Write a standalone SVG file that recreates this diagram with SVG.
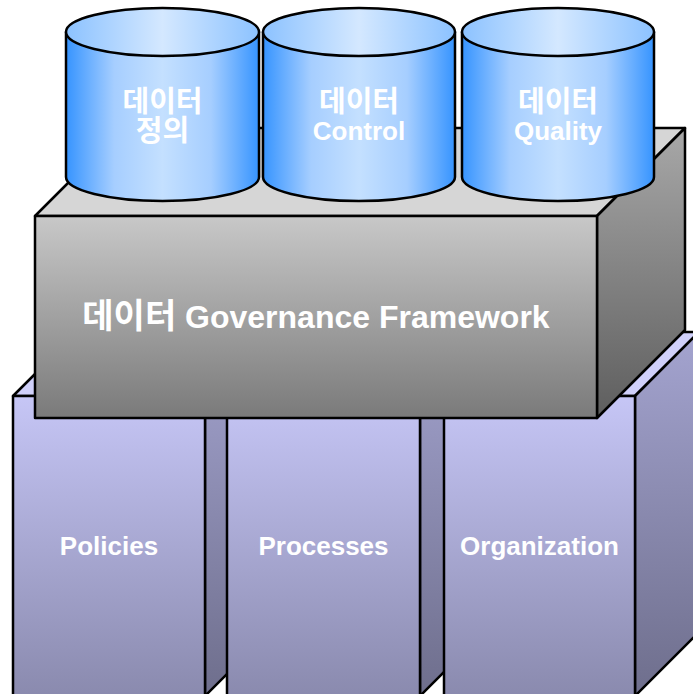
<svg xmlns="http://www.w3.org/2000/svg" width="693" height="694" viewBox="0 0 693 694">
  <defs>
    <linearGradient id="pFront" x1="0" y1="0" x2="0" y2="1">
      <stop offset="0" stop-color="#c6c6f6"/>
      <stop offset="1" stop-color="#8a8aae"/>
    </linearGradient>
    <linearGradient id="pSide" x1="0" y1="0" x2="0" y2="1">
      <stop offset="0" stop-color="#a4a4d0"/>
      <stop offset="1" stop-color="#6e6e8c"/>
    </linearGradient>
    <linearGradient id="gFront" x1="0" y1="0" x2="0" y2="1">
      <stop offset="0" stop-color="#c8c8c8"/>
      <stop offset="1" stop-color="#7a7a7a"/>
    </linearGradient>
    <linearGradient id="gSide" x1="0" y1="0" x2="0" y2="1">
      <stop offset="0" stop-color="#a8a8a8"/>
      <stop offset="1" stop-color="#5e5e5e"/>
    </linearGradient>
    <linearGradient id="cBody" x1="0" y1="0" x2="1" y2="0">
      <stop offset="0" stop-color="#3694ff"/>
      <stop offset="0.25" stop-color="#a6ceff"/>
      <stop offset="0.5" stop-color="#c4e0ff"/>
      <stop offset="0.75" stop-color="#a6ceff"/>
      <stop offset="1" stop-color="#3694ff"/>
    </linearGradient>
    <linearGradient id="cTop" x1="0" y1="0" x2="1" y2="0">
      <stop offset="0" stop-color="#8cc2ff"/>
      <stop offset="0.5" stop-color="#d4e8ff"/>
      <stop offset="1" stop-color="#8cc2ff"/>
    </linearGradient>
  </defs>
  <style>
    .ln { stroke: #000; stroke-width: 2.5; stroke-linejoin: round; }
    .pf { fill: url(#pFront); }
    .ps { fill: url(#pSide); }
    .pt { fill: #d0d0fa; }
    .cb { fill: url(#cBody); }
    .ct { fill: url(#cTop); }
    .t { font-family: "Liberation Sans", Arial, "Noto Sans CJK KR", sans-serif; font-weight: bold; fill: #fff; text-anchor: middle; }
    .s26 { font-size: 26px; }
    .k29 { font-size: 29px; }
    .s32 { font-size: 32px; }
    .k34 { font-size: 34px; }
  </style>

  <g id="pillar-policies">
    <polygon class="pt ln" points="13,396 77,332 269,332 205,396"/>
    <polygon class="ps ln" points="205,396 269,332 269,632 205,696"/>
    <rect class="pf ln" x="13" y="396" width="192" height="300"/>
    <text class="t s26" x="109" y="555">Policies</text>
  </g>
  <g id="pillar-processes">
    <polygon class="pt ln" points="227,396 291,332 484,332 420,396"/>
    <polygon class="ps ln" points="420,396 484,332 484,632 420,696"/>
    <rect class="pf ln" x="227" y="396" width="193" height="300"/>
    <text class="t s26" x="323.5" y="555">Processes</text>
  </g>
  <g id="pillar-organization">
    <polygon class="pt ln" points="444,396 508,332 699,332 635,396"/>
    <polygon class="ps ln" points="635,396 699,332 699,632 635,696"/>
    <rect class="pf ln" x="444" y="396" width="191" height="300"/>
    <text class="t s26" x="539.5" y="555">Organization</text>
  </g>

  <g id="framework">
    <polygon class="ln" fill="#d6d6d6" points="35,216 123,128 685,128 597,216"/>
    <polygon class="ln" fill="url(#gSide)" points="597,216 685,128 685,330 597,418"/>
    <rect class="ln" fill="url(#gFront)" x="35" y="216" width="562" height="202"/>
    <text class="t s32" x="316" y="328"><tspan class="k34">데이터</tspan> Governance Framework</text>
  </g>

  <g id="cyl-definition">
    <path class="cb ln" d="M66,32 V177 A96.5,24 0 0 0 259,177 V32 Z"/>
    <ellipse class="ct ln" cx="162.5" cy="32" rx="96.5" ry="24"/>
    <text class="t k29" x="162.5" y="112">데이터</text>
    <text class="t k29" x="162.5" y="141">정의</text>
  </g>
  <g id="cyl-control">
    <path class="cb ln" d="M263,32 V177 A96,24 0 0 0 455,177 V32 Z"/>
    <ellipse class="ct ln" cx="359" cy="32" rx="96" ry="24"/>
    <text class="t k29" x="359" y="112">데이터</text>
    <text class="t s26" x="359" y="140">Control</text>
  </g>
  <g id="cyl-quality">
    <path class="cb ln" d="M462,32 V177 A96,24 0 0 0 654,177 V32 Z"/>
    <ellipse class="ct ln" cx="558" cy="32" rx="96" ry="24"/>
    <text class="t k29" x="558" y="112">데이터</text>
    <text class="t s26" x="558" y="140">Quality</text>
  </g>
</svg>
